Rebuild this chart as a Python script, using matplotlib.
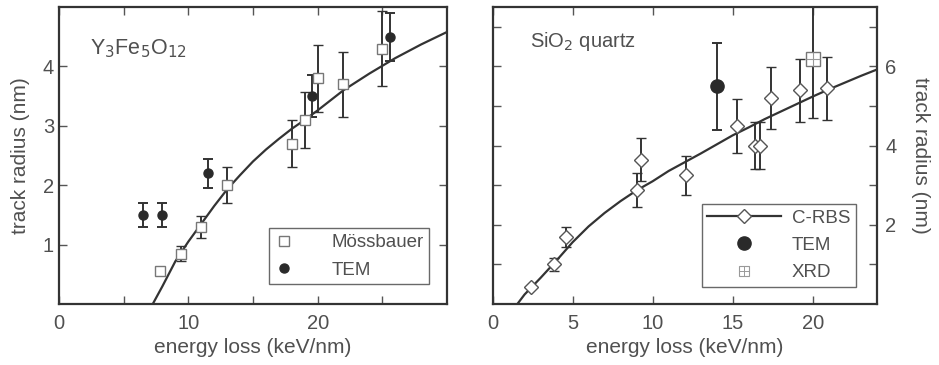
import matplotlib
matplotlib.use("Agg")
from matplotlib import pyplot as plt
from matplotlib.ticker import FixedLocator, NullFormatter

plt.rcParams['font.family'] = ['Liberation Sans', 'DejaVu Sans']

# --- Y3Fe5O12 data ---
moss_x = [7.8, 9.4, 11.0, 13.0, 18.0, 19.0, 20.0, 22.0, 25.0]
moss_y = [0.55, 0.85, 1.3, 2.0, 2.7, 3.1, 3.8, 3.7, 4.3]
moss_err = [0.0, 0.12, 0.18, 0.3, 0.4, 0.47, 0.56, 0.55, 0.63]

yig_tem_x = [6.5, 8.0, 11.5, 19.6, 25.6]
yig_tem_y = [1.5, 1.5, 2.2, 3.5, 4.5]
yig_tem_err = [0.2, 0.2, 0.25, 0.35, 0.4]

# fit curve
yig_fit_x = [7.25, 8, 9, 10, 11, 12, 13, 14, 15, 16, 17, 18, 19, 20, 22, 24, 26, 28, 30]
yig_fit_y = [0.0, 0.3, 0.72, 1.05, 1.35, 1.65, 1.93, 2.17, 2.4, 2.6, 2.78, 2.95,
             3.1, 3.26, 3.6, 3.88, 4.14, 4.37, 4.58]

# --- SiO2 quartz data ---
rbs_x = [2.4, 3.85, 4.6, 9.05, 9.25, 12.1, 15.25, 16.4, 16.7, 17.4, 19.2, 20.9]
rbs_y = [0.42, 1.0, 1.7, 2.87, 3.65, 3.25, 4.5, 4.0, 4.0, 5.2, 5.4, 5.45]
rbs_err = [0.0, 0.16, 0.25, 0.43, 0.55, 0.5, 0.68, 0.6, 0.6, 0.78, 0.8, 0.8]

qtz_tem_x = [14.0]
qtz_tem_y = [5.5]
qtz_tem_err = [1.1]

xrd_x = [20.0]
xrd_y = [6.2]
xrd_err = [1.5]

qtz_fit_x = [1.55, 2, 2.5, 3, 4, 5, 6, 7, 8, 9, 10, 11, 12, 13, 14, 15, 16,
             17, 18, 19, 20, 21, 22, 23, 24]
qtz_fit_y = [0.0, 0.24, 0.45, 0.66, 1.1, 1.56, 1.96, 2.3, 2.6, 2.87, 3.1, 3.36,
             3.58, 3.8, 4.03, 4.26, 4.46, 4.67, 4.86, 5.05, 5.24, 5.42, 5.59,
             5.76, 5.92]

dark = '#333333'
txt = '#505050'
fs = 13.5     # legend
fs_tick = 14.5
fs_lab = 15

fig = plt.figure(figsize=(9.39, 3.65), dpi=100)
ax1 = fig.add_axes([0.0628, 0.167, 0.4132, 0.8137])
ax2 = fig.add_axes([0.5245, 0.167, 0.4092, 0.8137])

eb = dict(ecolor=dark, elinewidth=1.4, capsize=3.8, capthick=1.4, linestyle='none')

# left panel
ax1.plot(yig_fit_x, yig_fit_y, color=dark, lw=1.6, zorder=2)
ax1.errorbar(moss_x, moss_y, yerr=moss_err, marker='s', ms=6.5, mfc='white',
             mec='#777777', mew=1.0, zorder=3, **eb)
ax1.errorbar(yig_tem_x, yig_tem_y, yerr=yig_tem_err, marker='o', ms=6.5,
             mfc='#2a2a2a', mec='#2a2a2a', zorder=3, **eb)
ax1.set_xlim(0, 30)
ax1.set_ylim(0, 5)
ax1.xaxis.set_major_locator(FixedLocator([0, 10, 20]))
ax1.xaxis.set_minor_locator(FixedLocator([5, 15, 25]))
ax1.yaxis.set_major_locator(FixedLocator([1, 2, 3, 4]))
ax1.set_xlabel('energy loss (keV/nm)', fontsize=fs_lab, color=txt, labelpad=4)
ax1.set_ylabel('track radius (nm)', fontsize=fs_lab, color=txt, labelpad=9)
ax1.text(0.08, 0.86, r'Y$_3$Fe$_5$O$_{12}$', transform=ax1.transAxes,
         fontsize=15.5, color=txt, va='center')

# legend left (markers only)
h1 = ax1.plot([], [], 's', ms=6.5, mfc='white', mec='#777777', mew=1.0)[0]
h2 = ax1.plot([], [], 'o', ms=6.5, mfc='#2a2a2a', mec='#2a2a2a')[0]
leg1 = ax1.legend([h1, h2], ['Mössbauer', 'TEM'], loc='lower right',
                  bbox_to_anchor=(0.954, 0.067), fontsize=fs, frameon=True,
                  fancybox=False, edgecolor='#444444', handlelength=1.0,
                  handletextpad=2.0, borderpad=0.3, labelspacing=0.55,
                  borderaxespad=0)
leg1.get_frame().set_linewidth(1.0)
for t in leg1.get_texts():
    t.set_color(txt)

# right panel
ax2.plot(qtz_fit_x, qtz_fit_y, color=dark, lw=1.6, zorder=2)
ax2.errorbar(rbs_x, rbs_y, yerr=rbs_err, marker='D', ms=7, mfc='white',
             mec='#555555', mew=1.0, zorder=3, **eb)
ax2.errorbar(qtz_tem_x, qtz_tem_y, yerr=qtz_tem_err, marker='o', ms=9.5,
             mfc='#2a2a2a', mec='#2a2a2a', zorder=3, **eb)
ax2.errorbar(xrd_x, xrd_y, yerr=xrd_err, marker='s', ms=9.5, mfc='white',
             mec='#777777', mew=1.0, zorder=3, **eb)
ax2.plot(xrd_x, xrd_y, '+', ms=9.5, mec='#999999', mew=0.8, zorder=4)
ax2.set_xlim(0, 24)
ax2.set_ylim(0, 7.5)
ax2.xaxis.set_major_locator(FixedLocator([0, 5, 10, 15, 20]))
ax2.yaxis.set_major_locator(FixedLocator([2, 4, 6]))
ax2.yaxis.set_minor_locator(FixedLocator([1, 3, 5, 7]))
ax2.yaxis.set_label_position('right')
ax2.set_xlabel('energy loss (keV/nm)', fontsize=fs_lab, color=txt, labelpad=4)
ax2.set_ylabel('track radius (nm)', fontsize=fs_lab, color=txt, rotation=270,
               labelpad=24)
ax2.text(0.098, 0.885, r'SiO$_2$ quartz', transform=ax2.transAxes,
         fontsize=14.5, color=txt, va='center')

g1 = ax2.plot([], [], '-D', color=dark, lw=1.6, ms=7, mfc='white',
              mec='#555555', mew=1.0)[0]
g2 = ax2.plot([], [], 'o', ms=9.5, mfc='#2a2a2a', mec='#2a2a2a')[0]
g3 = ax2.plot([], [], 's', ms=6.5, mfc='white', mec='#999999', mew=0.8)[0]
g3p = ax2.plot([], [], '+', ms=6.5, mec='#999999', mew=0.7)[0]
leg2 = ax2.legend([g1, g2, (g3, g3p)], ['C-RBS', 'TEM', 'XRD'], loc='lower right',
                  bbox_to_anchor=(0.946, 0.057), fontsize=fs, frameon=True,
                  fancybox=False, edgecolor='#444444', handlelength=3.9,
                  handletextpad=0.6, borderpad=0.3, labelspacing=0.55,
                  borderaxespad=0)
leg2.get_frame().set_linewidth(1.0)
for t in leg2.get_texts():
    t.set_color(txt)

for ax in (ax1, ax2):
    for s in ax.spines.values():
        s.set_color(dark)
        s.set_linewidth(1.6)
    ax.tick_params(which='both', direction='in', top=True, right=True,
                   left=True, bottom=True, length=6, width=1.0,
                   color='#555555', labelsize=fs_tick, labelcolor=txt)
    ax.tick_params(which='major', axis='x', pad=7)

ax2.tick_params(axis='y', which='both', labelleft=False, labelright=True, pad=6)
ax2.yaxis.set_minor_formatter(NullFormatter())

fig.savefig('out.png', dpi=100)
